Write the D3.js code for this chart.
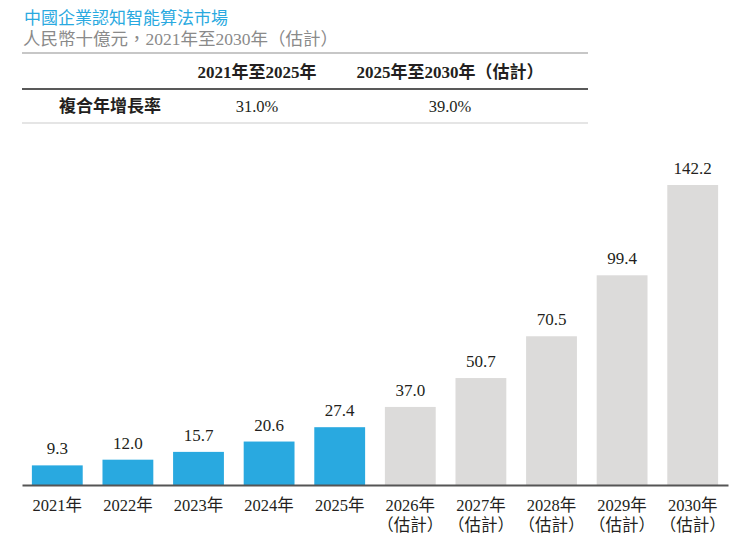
<!DOCTYPE html>
<html>
<head>
<meta charset="utf-8">
<script src="https://cdn.jsdelivr.net/npm/d3@7"></script>
<style>
  body { margin: 0; background: #fff; }
  svg text { font-family: "Liberation Serif", "Noto Sans CJK TC", serif; }
</style>
</head>
<body>
<div id="graphic"></div>
<script>
//data
var years = ["2021年", "2022年", "2023年", "2024年", "2025年", "2026年", "2027年", "2028年", "2029年", "2030年"];
var values = [9.3, 12.0, 15.7, 20.6, 27.4, 37.0, 50.7, 70.5, 99.4, 142.2];
var estimated = [false, false, false, false, false, true, true, true, true, true];
var cagrHeaders = ["2021年至2025年", "2025年至2030年（估計）"];
var cagrValues = ["31.0%", "39.0%"];
var cagrLabel = "複合年增長率";

var colors = { actual: "#29a9e0", forecast: "#dcdbda", axis: "#555", title: "#29a9e0", sub: "#8a8a8a" };

var width = 744, height = 543;
var svg = d3.select("#graphic").append("svg")
    .attr("width", width)
    .attr("height", height);

//title
svg.append("text")
    .attr("x", 24).attr("y", 24)
    .style("font-family", "'Noto Sans CJK TC', sans-serif")
    .style("font-size", "17px")
    .style("fill", colors.title)
    .text("中國企業認知智能算法市場");

svg.append("text")
    .attr("x", 23).attr("y", 45)
    .style("font-size", "17.5px")
    .style("fill", colors.sub)
    .text("人民幣十億元，2021年至2030年（估計）");

//cagr table
var tableLeft = 22, tableRight = 588;
svg.append("line").attr("x1", tableLeft).attr("x2", tableRight).attr("y1", 53).attr("y2", 53)
    .style("stroke", "#b5b5b5").style("stroke-width", 1.5);
svg.append("line").attr("x1", tableLeft).attr("x2", tableRight).attr("y1", 89).attr("y2", 89)
    .style("stroke", "#222").style("stroke-width", 1.5);
svg.append("line").attr("x1", tableLeft).attr("x2", tableRight).attr("y1", 123).attr("y2", 123)
    .style("stroke", "#ddd").style("stroke-width", 1.5);

var colX = [257, 450];
svg.selectAll("text.head")
    .data(cagrHeaders)
    .enter().append("text")
    .attr("class", "head")
    .attr("x", function(d, i) { return colX[i]; })
    .attr("y", 78)
    .attr("text-anchor", "middle")
    .style("font-size", "17px")
    .style("font-weight", "bold")
    .style("fill", "#231f20")
    .text(function(d) { return d; });

svg.append("text")
    .attr("x", 110).attr("y", 112)
    .attr("text-anchor", "middle")
    .style("font-family", "'Noto Sans CJK TC', sans-serif")
    .style("font-size", "17px")
    .style("font-weight", "bold")
    .style("fill", "#231f20")
    .text(cagrLabel);

svg.selectAll("text.cagr")
    .data(cagrValues)
    .enter().append("text")
    .attr("class", "cagr")
    .attr("x", function(d, i) { return colX[i]; })
    .attr("y", 112)
    .attr("text-anchor", "middle")
    .style("font-size", "16.5px")
    .style("fill", "#231f20")
    .text(function(d) { return d; });

//bars
var baseline = 485;
var x = d3.scaleBand()
    .domain(years)
    .range([22, 728])
    .paddingInner(0.28)
    .paddingOuter(0.14);

var y = d3.scaleLinear()
    .domain([0, 142.2])
    .range([baseline, 185]);

svg.selectAll("rect.bar")
    .data(values)
    .enter().append("rect")
    .attr("class", "bar")
    .attr("x", function(d, i) { return x(years[i]); })
    .attr("y", function(d) { return y(d); })
    .attr("width", x.bandwidth())
    .attr("height", function(d) { return baseline - y(d); })
    .style("fill", function(d, i) { return estimated[i] ? colors.forecast : colors.actual; });

svg.selectAll("text.val")
    .data(values)
    .enter().append("text")
    .attr("class", "val")
    .attr("x", function(d, i) { return x(years[i]) + x.bandwidth() / 2; })
    .attr("y", function(d) { return y(d) - 11; })
    .attr("text-anchor", "middle")
    .style("font-size", "17px")
    .style("fill", "#231f20")
    .text(function(d) { return d.toFixed(1); });

//axis
var axis = svg.append("g")
    .attr("transform", "translate(0," + baseline + ")")
    .call(d3.axisBottom(x).tickSize(0).tickPadding(0));
axis.select(".domain").style("stroke", colors.axis).style("stroke-width", 2);
axis.selectAll(".tick text").remove();

var labels = svg.selectAll("text.xlab")
    .data(years)
    .enter().append("text")
    .attr("class", "xlab")
    .attr("text-anchor", "middle")
    .style("font-size", "16.5px")
    .style("fill", "#231f20");

labels.append("tspan")
    .attr("x", function(d) { return x(d) + x.bandwidth() / 2; })
    .attr("y", 511)
    .text(function(d) { return d; });

labels.filter(function(d, i) { return estimated[i]; })
    .append("tspan")
    .attr("x", function(d) { return x(d) + x.bandwidth() / 2; })
    .attr("y", 531)
    .text("（估計）");
</script>
</body>
</html>
